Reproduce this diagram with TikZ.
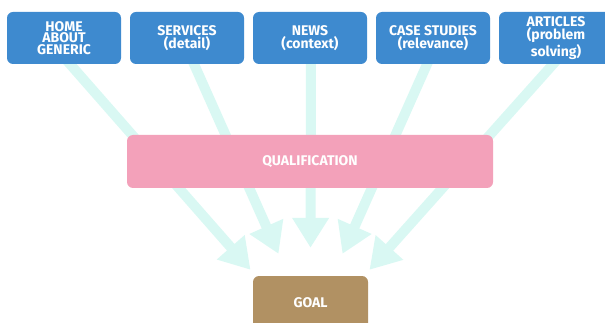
\documentclass[tikz,border=0pt]{standalone}
\usepackage{fontspec}
\setmainfont{Fira Sans}
\usetikzlibrary{arrows.meta,calc,backgrounds}
\definecolor{boxblue}{HTML}{3E8ACF}
\definecolor{qualpink}{HTML}{F3A1BA}
\definecolor{goalbrown}{HTML}{B19163}
\definecolor{flowcyan}{HTML}{D9F8F3}
\tikzset{
  card/.style={rounded corners=6pt, text=white, align=center,
    font=\fontsize{14}{11.5}\selectfont\bfseries, inner sep=0pt},
  topcard/.style={card, fill=boxblue, minimum width=114pt, minimum height=52pt},
  qualcard/.style={card, fill=qualpink, minimum width=366pt, minimum height=53pt},
  goalcard/.style={card, fill=goalbrown, minimum width=115pt, minimum height=53pt},
  flow/.style={draw=flowcyan, line width=10pt,
    -{Triangle[length=30pt,width=35pt]}}
}
\begin{document}
\begin{tikzpicture}[x=1pt,y=-1pt]
  \clip (0,0) rectangle (605,323);

  % source pages
  \node[topcard] (b1) at (64,38)  {HOME\\ABOUT\\GENERIC};
  \node[topcard] (b2) at (187,38) {SERVICES\\(detail)};
  \node[topcard] (b3) at (310,38) {NEWS\\(context)};
  \node[topcard] (b4) at (433,38) {CASE STUDIES\\(relevance)};
  \node[topcard] (b5) at (556,38) {ARTICLES\\(problem\\solving)};

  % middle stage and target
  \node[qualcard] (qual) at (310,161.5) {QUALIFICATION};
  \node[goalcard] (goal) at (310.5,302.5) {GOAL};

  % arrow tips above the goal
  \coordinate (t1) at ($(goal.north)+(-60,-6)$);
  \coordinate (t2) at ($(goal.north)+(-32,-22)$);
  \coordinate (t3) at ($(goal.north)+(0,-28)$);
  \coordinate (t4) at ($(goal.north)+(32,-22)$);
  \coordinate (t5) at ($(goal.north)+(59,-6)$);

  % flows run beneath the cards
  \begin{pgfonlayer}{background}
    \draw[flow] ($(b1.south)+(-2.7,-10)$) -- (t1);
    \draw[flow] ($(b2.south)+(2.6,-10)$) -- (t2);
    \draw[flow] ($(b3.south)+(1,-10)$) -- (t3);
    \draw[flow] ($(b4.south)+(-1.5,-10)$) -- (t4);
    \draw[flow] ($(b5.south)+(6,-10)$) -- (t5);
  \end{pgfonlayer}
\end{tikzpicture}
\end{document}
